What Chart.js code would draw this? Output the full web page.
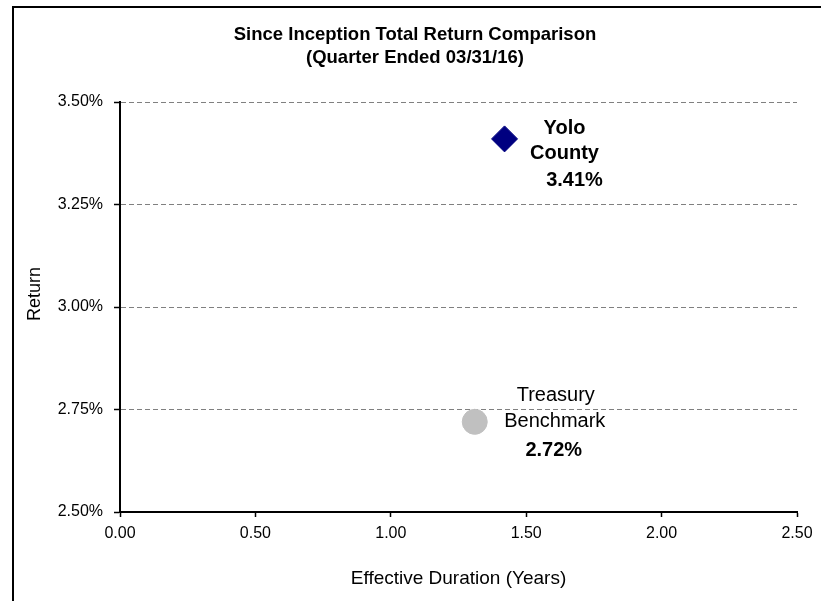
<!DOCTYPE html>
<html><head><meta charset="utf-8">
<script src="https://cdn.jsdelivr.net/npm/chart.js@4.4.0/dist/chart.umd.min.js"></script>
<style>html,body{margin:0;padding:0;background:#fff;} #wrap{position:relative;width:821px;height:601px;}</style>
</head><body><div id="wrap"><canvas id="c" width="821" height="601"></canvas></div>
<script>
const seriesNames = ['Yolo County', 'Treasury Benchmark'];
const durations = [1.42, 1.31];
const returns = [3.41, 2.72];
const labelLines = [['Yolo', 'County', '3.41%'], ['Treasury', 'Benchmark', '2.72%']];
const xTicks = [0, 0.5, 1.0, 1.5, 2.0, 2.5];
const yTicks = [2.5, 2.75, 3.0, 3.25, 3.5];
const titleLines = ['Since Inception Total Return Comparison', '(Quarter Ended 03/31/16)'];
const xTitle = 'Effective Duration (Years)';
const yTitle = 'Return';

const FAM = '"Liberation Sans", Arial, sans-serif';

// label layout: [dx, dy, bold] per line, relative to the point pixel
const labelStyle = [
  [[60, -10, true], [60, 15, true], [70, 42, true]],
  [[81, -26, false], [80, 0, false], [79, 29, true]]
];

const extras = {
  id: 'extras',
  afterDraw(chart) {
    const ctx = chart.ctx;
    ctx.save();
    // frame
    ctx.strokeStyle = '#000';
    ctx.lineWidth = 2;
    ctx.strokeRect(13, 7, 900, 700);
    // title
    ctx.fillStyle = '#000';
    ctx.textAlign = 'center';
    ctx.textBaseline = 'middle';
    ctx.font = 'bold 18.5px ' + FAM;
    titleLines.forEach((t, i) => ctx.fillText(t, 415, 35 + i * 23));
    // y title
    ctx.save();
    ctx.translate(35, 294);
    ctx.rotate(-Math.PI / 2);
    ctx.font = '18px ' + FAM;
    ctx.fillText(yTitle, 0, 0);
    ctx.restore();
    // point labels
    chart.data.datasets.forEach((ds, di) => {
      const pt = chart.getDatasetMeta(di).data[0];
      labelLines[di].forEach((line, li) => {
        const [dx, dy, bold] = labelStyle[di][li];
        ctx.font = (bold ? 'bold ' : '') + '20px ' + FAM;
        ctx.fillText(line, pt.x + dx, pt.y + dy);
      });
    });
    ctx.restore();
  }
};

new Chart(document.getElementById('c'), {
  type: 'scatter',
  data: {
    datasets: [
      { label: seriesNames[0], data: [{ x: durations[0], y: returns[0] }],
        pointStyle: 'rectRot', pointRadius: 13, pointHoverRadius: 13,
        backgroundColor: '#000080', borderColor: '#000080', borderWidth: 1 },
      { label: seriesNames[1], data: [{ x: durations[1], y: returns[1] }],
        pointStyle: 'circle', pointRadius: 12.5, pointHoverRadius: 12.5,
        backgroundColor: '#c0c0c0', borderColor: '#c0c0c0', borderWidth: 1 }
    ]
  },
  options: {
    responsive: false,
    animation: false,
    events: [],
    layout: { padding: { left: 14, right: 24, top: 102, bottom: 0 } },
    plugins: { legend: { display: false }, tooltip: { enabled: false }, title: { display: false } },
    scales: {
      x: {
        type: 'linear', min: 0, max: 2.5,
        afterBuildTicks: s => { s.ticks = xTicks.map(v => ({ value: v })); },
        afterFit: s => { s.height = 89; },
        grid: { drawOnChartArea: false, drawTicks: true, tickLength: 5, tickColor: '#000', tickWidth: 1.5 },
        border: { display: true, color: '#000', width: 2 },
        ticks: { color: '#000', font: { family: FAM, size: 16 }, padding: 7, maxRotation: 0, autoSkip: false,
                 callback: v => Number(v).toFixed(2) },
        title: { display: true, text: xTitle, color: '#000', font: { family: FAM, size: 19 }, padding: { top: 0, bottom: 11 } }
      },
      y: {
        type: 'linear', min: 2.5, max: 3.5,
        afterBuildTicks: s => { s.ticks = yTicks.map(v => ({ value: v })); },
        afterFit: s => { s.width = 106; },
        grid: { color: '#808080', lineWidth: 1, drawTicks: true, tickLength: 6, tickColor: '#000', tickWidth: 1.5, tickBorderDash: [] },
        border: { display: true, color: '#000', width: 2, dash: [5, 3] },
        ticks: { color: '#000', font: { family: FAM, size: 16 }, padding: 11,
                 callback: v => Number(v).toFixed(2) + '%' }
      }
    }
  },
  plugins: [extras]
});
</script>
</body></html>
